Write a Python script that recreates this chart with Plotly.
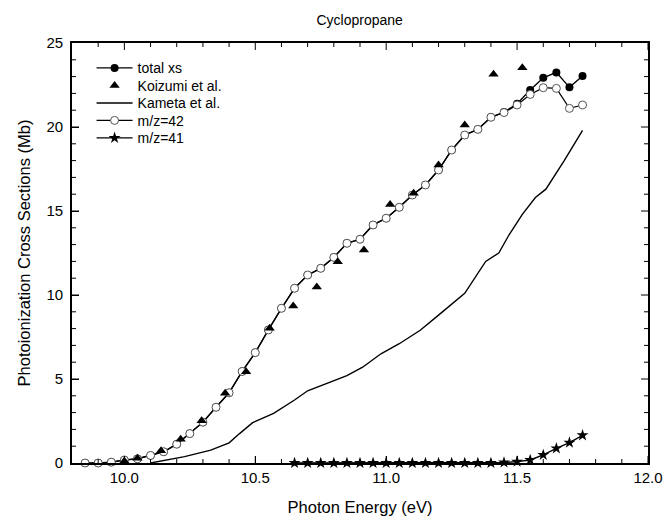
import plotly.graph_objects as go

# ---------------- data ----------------
energy = [9.85, 9.90, 9.95, 10.00, 10.05, 10.10, 10.15, 10.20, 10.25, 10.30,
          10.35, 10.40, 10.45, 10.50, 10.55, 10.60, 10.65, 10.70, 10.75, 10.80,
          10.85, 10.90, 10.95, 11.00, 11.05, 11.10, 11.15, 11.20, 11.25, 11.30,
          11.35, 11.40, 11.45, 11.50, 11.55, 11.60, 11.65, 11.70, 11.75]
mz42 = [0.0, 0.0, 0.05, 0.18, 0.25, 0.45, 0.67, 1.12, 1.75, 2.43,
        3.32, 4.18, 5.45, 6.57, 7.92, 9.21, 10.4, 11.19, 11.59, 12.24,
        13.08, 13.32, 14.17, 14.57, 15.22, 15.95, 16.55, 17.44, 18.63, 19.52,
        19.86, 20.58, 20.86, 21.31, 21.94, 22.34, 22.30, 21.11, 21.31]
total_xs = [0.0, 0.0, 0.05, 0.18, 0.25, 0.45, 0.67, 1.12, 1.75, 2.43,
            3.32, 4.18, 5.45, 6.57, 7.92, 9.21, 10.4, 11.19, 11.59, 12.24,
            13.08, 13.32, 14.17, 14.57, 15.22, 15.95, 16.55, 17.44, 18.63, 19.52,
            19.86, 20.58, 20.89, 21.38, 22.20, 22.93, 23.25, 22.36, 23.04]

energy41 = [10.65, 10.70, 10.75, 10.80, 10.85, 10.90, 10.95, 11.00, 11.05, 11.10,
            11.15, 11.20, 11.25, 11.30, 11.35, 11.40, 11.45, 11.50, 11.55, 11.60,
            11.65, 11.70, 11.75]
mz41 = [0.0, 0.0, 0.0, 0.0, 0.0, 0.0, 0.0, 0.0, 0.0, 0.0,
        0.0, 0.0, 0.0, 0.0, 0.0, 0.0, 0.03, 0.08, 0.18, 0.48,
        0.87, 1.21, 1.65]

koizumi_e = [10.00, 10.05, 10.14, 10.215, 10.295, 10.385, 10.465, 10.555, 10.645,
             10.735, 10.815, 10.915, 11.015, 11.105, 11.20, 11.30, 11.41, 11.52]
koizumi_xs = [0.12, 0.28, 0.73, 1.41, 2.52, 4.15, 5.43, 8.02, 9.35,
              10.48, 11.98, 12.68, 15.38, 16.05, 17.74, 20.12, 23.14, 23.53]

kameta_e = [10.10, 10.23, 10.33, 10.40, 10.44, 10.49, 10.57, 10.65, 10.70, 10.75,
            10.85, 10.91, 10.98, 11.05, 11.13, 11.20, 11.30, 11.38, 11.43, 11.47,
            11.52, 11.57, 11.61, 11.68, 11.75]
kameta_xs = [0.0, 0.38, 0.77, 1.2, 1.75, 2.4, 2.96, 3.75, 4.3, 4.6,
             5.2, 5.7, 6.5, 7.1, 7.9, 8.8, 10.1, 12.0, 12.5, 13.6,
             14.8, 15.8, 16.3, 18.0, 19.8]

X_RANGE = [9.8, 12.0]
Y_RANGE = [0, 25]
x_major_ticks = [10.0, 10.5, 11.0, 11.5, 12.0]
x_minor_ticks = [9.9, 10.1, 10.2, 10.3, 10.4, 10.6, 10.7, 10.8, 10.9,
                 11.1, 11.2, 11.3, 11.4, 11.6, 11.7, 11.8, 11.9]
y_major_ticks = [5, 10, 15, 20]
y_minor_ticks = [1, 2, 3, 4, 6, 7, 8, 9, 11, 12, 13, 14, 16, 17, 18, 19, 21, 22, 23, 24]

FONT = "Arial, 'Liberation Sans', sans-serif"

fig = go.Figure()

fig.add_trace(go.Scatter(
    x=energy, y=total_xs, name="total xs", mode="lines+markers",
    line=dict(color="black", width=1.4),
    marker=dict(symbol="circle", size=8, color="black"),
    cliponaxis=False, legend="legend"))

fig.add_trace(go.Scatter(
    x=kameta_e, y=kameta_xs, name="Kameta et al.", mode="lines",
    line=dict(color="black", width=1.4),
    cliponaxis=False, legend="legend3"))

fig.add_trace(go.Scatter(
    x=energy, y=mz42, name="m/z=42", mode="lines+markers",
    line=dict(color="black", width=1.2),
    marker=dict(symbol="circle", size=8, color="white",
                line=dict(color="#555555", width=1)),
    cliponaxis=False, legend="legend4"))

fig.add_trace(go.Scatter(
    x=energy41, y=mz41, name="m/z=41", mode="lines+markers",
    line=dict(color="black", width=1.4),
    marker=dict(symbol="star", size=9, color="black"),
    cliponaxis=False, legend="legend5"))

fig.add_trace(go.Scatter(
    x=koizumi_e, y=koizumi_xs, name="Koizumi et al.", mode="markers",
    marker=dict(symbol="triangle-up", size=9, color="black"),
    cliponaxis=False, legend="legend2"))

tick_base = dict(ticks="inside", tickwidth=1, tickcolor="black", ticklen=7,
                 showgrid=False, zeroline=False, automargin=False,
                 showline=True, linecolor="black", linewidth=1.5, mirror=True)

fig.update_layout(
    xaxis=dict(range=X_RANGE, tickvals=x_major_ticks, tickformat=".1f",
               tickfont=dict(family=FONT, size=15, color="black"),
               title=dict(text="Photon Energy (eV)",
                          font=dict(family=FONT, size=16.5, color="black"), standoff=17),
               **tick_base),
    yaxis=dict(range=Y_RANGE, tick0=0, dtick=5, ticksuffix="\u00a0",
               tickfont=dict(family=FONT, size=15, color="black"),
               title=dict(text="Photoionization Cross Sections (Mb)",
                          font=dict(family=FONT, size=16.5, color="black"), standoff=12),
               **tick_base),
)

# inward tick marks on all four sides (major 7 px, minor 4 px)
tick_line = dict(color="black", width=1)
for vals, length in [(x_major_ticks, 7), (x_minor_ticks, 4)]:
    for v in vals:
        fig.add_shape(type="line", xref="x", yref="y", ysizemode="pixel",
                      x0=v, x1=v, yanchor=Y_RANGE[0], y0=0, y1=length, line=tick_line)
        fig.add_shape(type="line", xref="x", yref="y", ysizemode="pixel",
                      x0=v, x1=v, yanchor=Y_RANGE[1], y0=0, y1=-length, line=tick_line)
for vals, length in [(y_major_ticks, 7), (y_minor_ticks, 4)]:
    for v in vals:
        fig.add_shape(type="line", xref="x", yref="y", xsizemode="pixel",
                      y0=v, y1=v, xanchor=X_RANGE[0], x0=0, x1=length, line=tick_line)
        fig.add_shape(type="line", xref="x", yref="y", xsizemode="pixel",
                      y0=v, y1=v, xanchor=X_RANGE[1], x0=0, x1=-length, line=tick_line)

# one legend per entry so the rows can sit at the reference spacing
row_px = [68.3, 86.0, 103.4, 120.8, 138.3]
legend_common = dict(x=0.034, xanchor="left", yanchor="middle",
                     bgcolor="rgba(0,0,0,0)", borderwidth=0, itemwidth=36,
                     font=dict(family=FONT, size=14, color="black"))
legends = {}
for i, yp in enumerate(row_px):
    key = "legend" if i == 0 else f"legend{i + 1}"
    legends[key] = dict(y=(463 - yp) / 420, **legend_common)

fig.update_layout(
    width=671, height=529,
    margin=dict(l=72, r=23, t=43, b=66, autoexpand=False),
    paper_bgcolor="white", plot_bgcolor="white",
    title=dict(text="Cyclopropane", x=0.536, xanchor="center", y=0.962, yanchor="middle",
               font=dict(family=FONT, size=14, color="black")),
    showlegend=True,
    font=dict(family=FONT, color="black"),
    **legends,
)

fig.write_html("out.html", config={"displayModeBar": False},
               post_script="document.body.style.margin='0px';")
